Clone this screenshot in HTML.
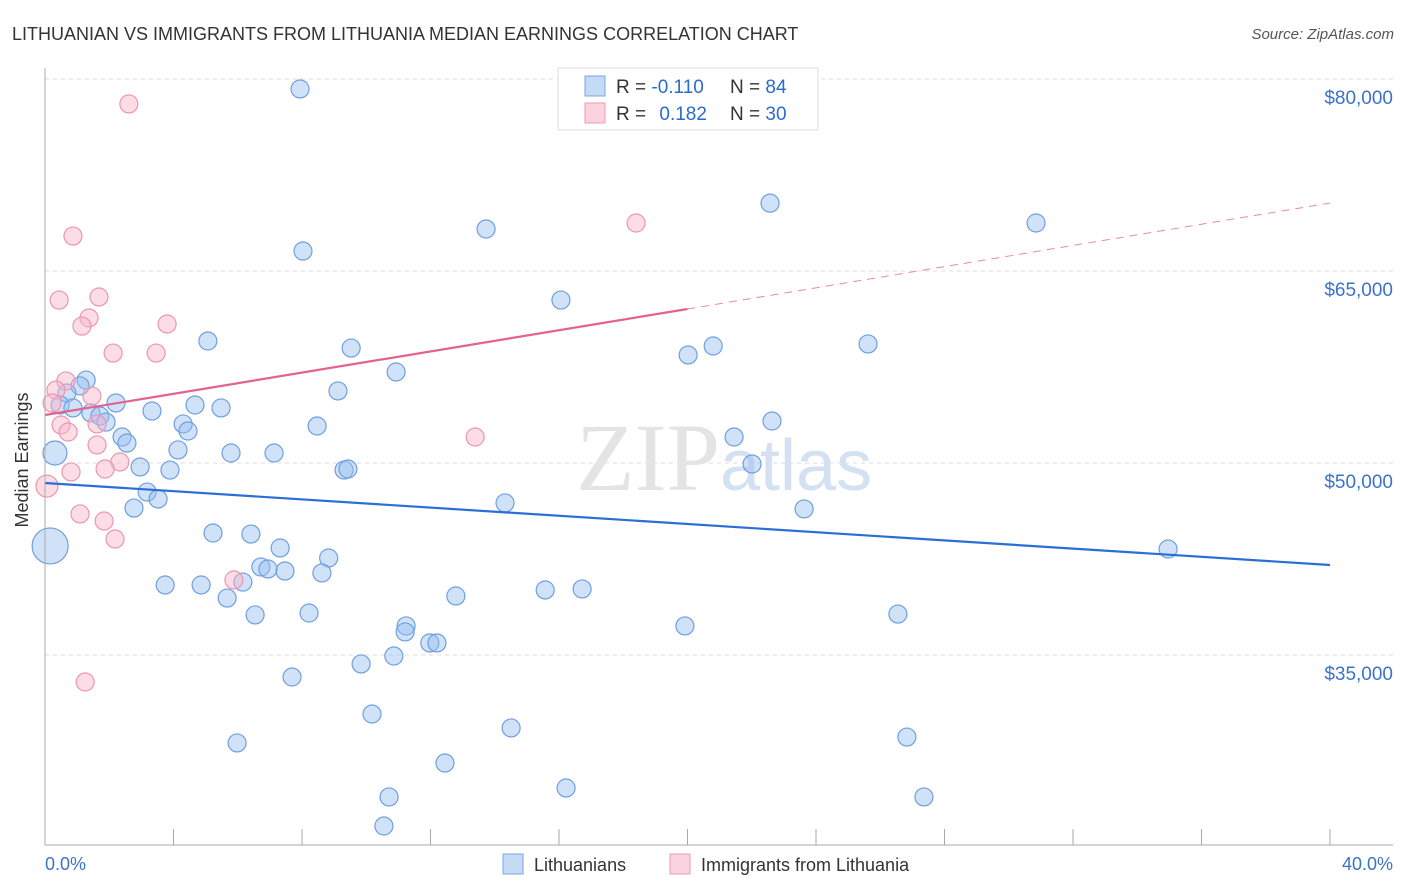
<!DOCTYPE html>
<html><head><meta charset="utf-8"><style>
body{margin:0;background:#fff;font-family:"Liberation Sans",sans-serif}
#c{position:absolute;left:0;top:0}
</style></head><body>
<svg id="c" width="1406" height="892">
<text x="12" y="40" font-size="18" fill="#333">LITHUANIAN VS IMMIGRANTS FROM LITHUANIA MEDIAN EARNINGS CORRELATION CHART</text>
<text x="1394" y="39" font-size="15" fill="#555" font-style="italic" text-anchor="end">Source: ZipAtlas.com</text>
<g id="grid"></g>
<text x="720" y="490" font-size="96" font-family="Liberation Serif,serif" fill="#e4e4e4" text-anchor="end">ZIP</text>
<text x="720" y="490" font-size="72" fill="#d3e1f3">atlas</text>
<g id="pts"></g>
<g id="lines"></g>
<line x1="45" y1="68" x2="45" y2="845" stroke="#aaa"/>
<line x1="45" y1="845" x2="1393" y2="845" stroke="#aaa"/>
<g id="ticks"></g>
<text x="24" y="456" font-size="18" fill="#333" text-anchor="middle" transform="rotate(-90 28 456)">Median Earnings</text>
<text x="45" y="870" font-size="18" fill="#3b73c9">0.0%</text>
<text x="1393" y="870" font-size="18" fill="#3b73c9" text-anchor="end">40.0%</text>
<g>
<rect x="558" y="68" width="260" height="62" fill="#fff" stroke="#ddd"/>
<rect x="585" y="76" width="20" height="20" fill="#c5daf5" stroke="#7ba7e3"/>
<rect x="585" y="103" width="20" height="20" fill="#fbd3df" stroke="#ec9ab3"/>
<text x="616" y="93" font-size="19" fill="#333">R = <tspan fill="#2a6bd1">-0.110</tspan></text>
<text x="730" y="93" font-size="19" fill="#333">N = <tspan fill="#2a6bd1">84</tspan></text>
<text x="616" y="120" font-size="19" fill="#333">R = <tspan fill="#2a6bd1" dx="8">0.182</tspan></text>
<text x="730" y="120" font-size="19" fill="#333">N = <tspan fill="#2a6bd1">30</tspan></text>
</g>
<g>
<rect x="503" y="854" width="20" height="20" fill="#c5daf5" stroke="#7ba7e3"/>
<text x="534" y="871" font-size="18" fill="#333">Lithuanians</text>
<rect x="670" y="854" width="20" height="20" fill="#fbd3df" stroke="#ec9ab3"/>
<text x="701" y="871" font-size="18" fill="#333">Immigrants from Lithuania</text>
</g>
</svg>
<script>
const yTicks=[80000,65000,50000,35000];
const yTickLabels=["$80,000","$65,000","$50,000","$35,000"];
const xTicks=[0,4,8,12,16,20,24,28,32,36,40];
const blueX=[7.94,22.57,30.85,13.73,8.03,16.06,5.07,9.53,20.02,20.80,25.62,10.93,1.28,1.09,0.68,9.12,2.21,4.67,5.48,0.47,0.87,3.33,1.43,1.71,1.90,4.30,22.63,8.47,4.45,2.40,2.55,21.45,4.14,0.31,5.79,7.13,2.96,3.89,9.31,9.43,22.01,3.18,3.52,14.32,2.77,23.63,5.23,6.41,0.16,7.32,34.96,8.83,6.72,7.47,6.94,8.62,3.74,4.86,6.16,15.57,16.72,5.67,12.79,8.22,6.54,26.55,11.24,11.21,19.92,11.98,12.20,9.84,10.86,7.69,10.18,14.51,5.98,26.83,12.45,16.22,10.71,27.36,10.55];
const blueY=[79220,70300,68750,68280,66560,62730,59530,58980,58440,59140,59300,57110,56480,56020,55470,55630,54690,54530,54300,54530,54300,54060,53910,53670,53200,53050,53280,52890,52500,52030,51560,52030,51020,50780,50780,50780,49690,49450,49450,49530,49920,47730,47190,46880,46480,46410,44530,44450,43520,43360,43280,42580,41880,41560,41720,41410,40470,40470,40700,40080,40160,39450,39610,38280,38130,38200,37270,36800,37270,35940,35940,34300,34920,33280,30390,29300,28130,28590,26560,24610,23910,23910,21640];
const blueSize=blueX.map((_,i)=>i===33?12:(i===48?18:9));
const pinkX=[2.61,0.87,18.40,0.44,1.68,1.37,1.15,3.80,2.12,3.46,0.65,0.34,1.46,0.22,1.62,0.50,0.72,13.39,1.62,2.33,1.87,0.81,0.06,1.09,1.84,2.18,5.88,1.25];
const pinkY=[78050,67730,68750,62730,62970,61330,60700,60860,58590,58590,56410,55700,55230,54690,53050,52970,52420,52030,51410,50080,49530,49300,48200,46020,45470,44060,40860,32890];
const pinkSize=pinkX.map((_,i)=>i===22?11:9);
const blueTrend=[48440,42030];
const pinkTrend=[53750,70310];
const pinkSolidEnd=20;
const X=v=>45+v/40*1285, Y=v=>79+(80000-v)*0.0128;
const NS="http://www.w3.org/2000/svg";
function mk(t,a,p){const e=document.createElementNS(NS,t);for(const k in a)e.setAttribute(k,a[k]);p.appendChild(e);return e;}
const grid=document.getElementById('grid');
yTicks.forEach((v,i)=>{
 const l=mk('line',{x1:45,x2:1393,y1:Y(v),y2:Y(v),stroke:'#ddd','stroke-dasharray':'4 4'},grid);
 
 
 const t=mk('text',{x:1393,y:Y(v)+25,'font-size':19,fill:'#3b73c9','text-anchor':'end'},grid);
 t.textContent=yTickLabels[i];
 
 
});
const tk=document.getElementById('ticks');
xTicks.forEach(v=>{
 const l=mk('line',{x1:X(v),x2:X(v),y1:829,y2:845,stroke:'#aaa'},tk);
 
 
});
const pts=document.getElementById('pts');
blueX.forEach((x,i)=>{
 const c=mk('circle',{cx:X(x),cy:Y(blueY[i]),r:blueSize[i],fill:'rgba(150,190,240,0.45)',stroke:'#6f9fe0','stroke-width':1.2},pts);
 
 
});
pinkX.forEach((x,i)=>{
 const c=mk('circle',{cx:X(x),cy:Y(pinkY[i]),r:pinkSize[i],fill:'rgba(248,180,200,0.45)',stroke:'#ec96b0','stroke-width':1.2},pts);
 
 
});
const ln=document.getElementById('lines');
let b=mk('line',{x1:X(0),y1:Y(blueTrend[0]),x2:X(40),y2:Y(blueTrend[1]),stroke:'#2a6fd6','stroke-width':2.2},ln);


const pm=pinkTrend[0]+(pinkTrend[1]-pinkTrend[0])*pinkSolidEnd/40;
let p=mk('line',{x1:X(0),y1:Y(pinkTrend[0]),x2:X(pinkSolidEnd),y2:Y(pm),stroke:'#e4628e','stroke-width':2.2},ln);


let pd=mk('line',{x1:X(pinkSolidEnd),y1:Y(pm),x2:X(40),y2:Y(pinkTrend[1]),stroke:'#e88aa8','stroke-width':1,'stroke-dasharray':'8 6'},ln);


</script>
</body></html>
